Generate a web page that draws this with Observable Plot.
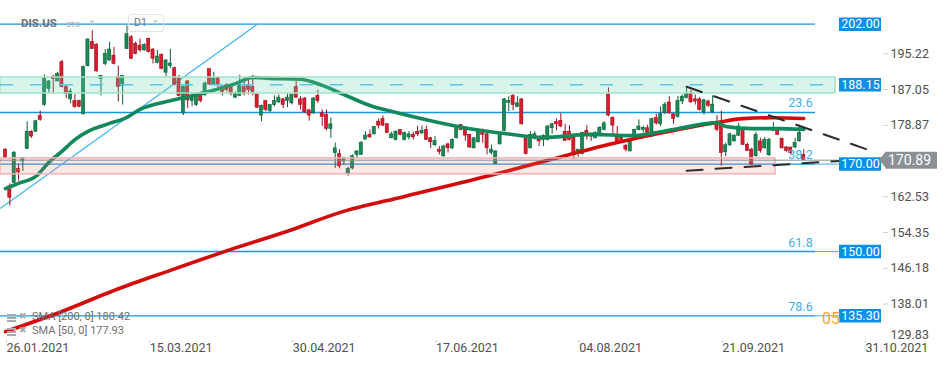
<!DOCTYPE html>
<html><head><meta charset="utf-8">
<script src="https://cdn.jsdelivr.net/npm/d3@7"></script>
<script src="https://cdn.jsdelivr.net/npm/@observablehq/plot@0.6"></script>
<style>
body{margin:0;background:#fff;font-family:Roboto,"Noto Sans",sans-serif;}
#wrap{position:relative;width:950px;height:365px;overflow:hidden}
#wrap svg{position:absolute;left:0;top:0;overflow:visible}
.ov{position:absolute;white-space:nowrap;line-height:1}
</style></head><body>
<div id="wrap"></div>
<script>
// ---- data ----
const opens = [173.3,164.9,165.7,168.9,170.6,173.5,177.4,177.4,181.0,183.5,
187.2,189.9,188.9,193.3,187.6,184.8,184.4,184.4,181.4,192.4,
197.9,197.3,189.5,192.9,193.7,194.8,189.9,187.8,196.3,199.0,
197.5,197.1,196.0,198.6,196.2,193.1,195.0,190.9,192.4,191.9,
189.7,181.6,188.9,184.4,183.5,186.1,185.7,191.7,188.2,189.7,
187.6,188.0,188.0,185.2,185.6,187.6,187.9,187.6,185.9,181.1,
184.4,182.1,183.5,184.1,184.8,184.4,183.9,187.6,184.8,185.0,
182.3,181.6,185.6,181.6,181.2,178.0,172.5,172.3,170.6,167.7,
169.0,172.1,172.1,175.6,176.7,176.8,179.7,180.3,179.1,175.9,
175.5,177.8,175.5,176.1,176.7,177.4,177.0,177.8,175.9,174.3,
173.3,171.8,174.5,173.6,175.9,178.9,178.0,176.7,173.6,175.0,
177.6,176.8,172.6,170.0,174.5,177.6,184.0,185.6,183.1,184.8,
175.8,173.6,175.9,175.9,175.5,175.5,178.2,179.6,179.9,177.4,
177.4,176.1,172.5,172.3,177.6,176.8,175.9,176.8,177.8,185.9,
180.6,176.7,176.1,174.2,172.9,176.5,177.8,177.8,178.2,176.3,
180.5,179.1,181.6,184.1,181.4,180.8,184.3,185.1,186.1,184.8,
184.8,181.8,184.3,181.8,179.1,178.9,172.7,174.3,175.2,176.5,
177.6,174.4,173.3,171.8,175.2,173.6,172.0,177.6,177.8,175.8,
173.8,173.8,173.8,175.2,172.1];
const highs = [173.5,165.5,172.9,169.9,171.5,179.7,177.6,180.0,182.1,190.4,
189.1,190.3,191.0,193.7,188.0,187.2,185.9,184.6,192.4,198.6,
200.5,197.5,190.3,196.2,197.9,196.7,192.4,190.3,201.6,199.4,
197.9,198.6,197.5,198.8,196.4,196.0,195.2,193.9,196.2,192.2,
190.3,187.8,189.1,186.1,186.0,186.5,188.8,191.8,191.0,189.9,
188.0,188.4,188.0,186.5,190.3,189.1,189.5,190.3,186.1,183.5,
184.6,183.6,185.6,185.8,185.0,186.1,186.1,188.9,185.4,185.2,
182.4,185.2,186.9,182.4,182.4,180.5,174.8,173.3,171.6,169.3,
172.1,173.0,175.2,177.4,177.8,178.6,180.3,181.0,179.3,177.3,
177.6,177.8,177.3,177.4,177.3,178.6,178.7,178.7,176.1,176.3,
174.0,174.3,174.8,175.8,178.3,179.0,178.2,176.8,176.1,178.0,
178.0,177.1,174.4,173.0,177.4,185.0,185.4,185.9,185.4,185.0,
175.9,177.4,177.4,176.1,176.7,178.8,179.3,180.3,181.6,179.1,
178.8,176.3,173.3,177.3,178.8,177.1,177.4,178.6,179.7,187.4,
180.8,178.6,176.8,174.5,175.3,178.0,180.1,178.6,178.9,180.5,
181.4,183.1,184.1,185.4,181.6,185.5,185.8,187.6,186.9,185.8,
185.2,184.8,184.6,185.6,181.1,182.1,174.8,177.1,176.7,179.3,
177.8,174.8,173.6,177.3,175.9,176.1,175.9,179.5,178.2,175.9,
174.0,173.8,175.9,178.9,173.3];
const lows = [171.2,160.4,165.5,166.1,168.3,173.3,175.9,177.3,179.8,183.2,
186.1,186.1,188.8,187.4,185.0,183.8,182.7,182.9,181.2,192.2,
196.2,191.0,185.6,192.5,193.5,192.7,184.2,183.5,196.2,193.9,
195.0,195.6,195.8,195.4,192.9,192.9,191.6,189.9,191.8,187.9,
185.4,181.1,182.7,183.1,183.2,184.0,185.6,188.0,188.0,187.3,
185.6,186.5,185.6,185.0,185.4,185.6,185.8,185.6,182.7,179.7,
182.0,181.8,183.1,183.9,182.7,182.9,183.5,185.0,182.4,181.6,
179.8,181.4,183.9,178.6,177.6,175.9,169.0,168.9,169.7,167.2,
168.7,171.5,172.0,175.5,175.9,176.7,178.0,178.6,177.0,175.8,
175.3,176.5,175.3,175.5,175.5,176.3,176.8,175.5,173.6,174.0,
172.1,171.5,172.5,173.3,175.8,177.6,175.2,173.6,173.5,174.8,
174.8,172.1,172.1,169.9,174.4,177.4,182.0,182.2,182.9,178.9,
172.1,173.5,175.5,174.0,174.0,175.3,176.8,177.6,178.3,175.2,
175.3,171.0,171.5,172.1,175.5,175.2,175.8,176.7,177.6,180.8,
176.7,175.0,174.8,172.8,172.8,176.3,177.6,177.1,176.5,176.1,
178.9,178.6,181.4,181.4,179.1,180.5,183.6,184.9,183.9,183.5,
182.1,181.2,182.9,181.6,177.4,169.5,171.7,174.0,175.0,176.3,
174.3,172.9,169.7,171.6,172.5,173.5,171.8,177.4,176.5,173.5,
172.7,172.1,173.5,175.0,171.0];
const closes = [171.4,162.3,172.6,168.1,171.4,177.4,176.3,179.8,180.1,189.5,
188.9,189.5,190.6,187.6,186.1,186.6,183.1,183.1,192.2,198.5,
196.3,191.2,190.1,195.2,196.2,192.9,187.6,190.1,199.7,194.1,
195.2,196.0,197.2,195.6,194.1,194.6,191.8,193.7,193.0,188.2,
185.6,187.6,184.6,185.2,185.7,184.4,188.4,188.2,189.7,188.0,
186.5,186.9,186.1,186.1,187.9,186.1,186.9,186.5,182.9,183.3,
182.4,183.5,184.4,185.2,183.5,185.2,185.8,185.2,183.5,181.8,
181.1,185.0,184.4,180.8,178.0,179.1,173.6,169.5,171.4,168.9,
171.8,172.9,174.8,176.5,176.1,178.5,178.8,178.8,177.1,176.8,
177.4,176.7,177.1,176.8,176.1,176.8,177.6,175.5,175.0,175.3,
172.8,174.0,173.6,175.5,178.2,177.8,176.5,173.8,175.9,177.8,
176.7,173.6,173.3,172.9,176.8,184.8,184.4,183.5,183.9,179.1,
172.3,176.7,176.8,175.2,176.4,178.6,179.1,179.1,178.6,175.3,
175.5,172.5,173.3,177.1,176.7,176.3,177.1,178.3,179.3,181.1,
178.8,175.2,175.5,173.3,175.2,177.8,178.6,178.3,177.1,180.3,
179.3,181.4,183.6,181.6,180.3,184.4,185.4,186.1,184.1,184.3,
182.4,184.6,183.3,183.6,177.8,172.5,174.3,176.8,176.5,178.6,
174.4,173.0,169.9,176.7,173.0,175.5,175.5,177.8,176.7,173.6,
173.0,172.5,174.8,177.1,170.9];

const sma50Idx = [0,3,7,10,13,16,19,24,28,31,38,45,53,57,61,68,73,78,84,90,99,107,115,124,135,144,155,164,166,172,178,184];
const sma50Val = [164.4,165.6,167.2,170.4,172.9,175.6,177.5,179.3,180.7,182.5,184.5,186.1,188.4,189.8,189.6,189.4,188.0,185.9,183.4,181.8,179.7,178.1,177.0,176.1,176.8,176.5,178.1,179.5,178.6,178.1,178.1,177.93];
const sma200Idx = [0,13,25,38,52,66,77,92,111,124,139,156,164,170,177,184];
const sma200Val = [131.7,136.3,141.1,145.7,150.5,155.0,158.9,162.6,167.2,170.6,174.5,178.1,179.5,180.4,180.6,180.42];

const fibNames = ["0.0","23.6","38.2","61.8","78.6"];
const fibPrices = [202.00,181.8,170.00,150.00,135.30];
const levelLabels = [202.00,188.15,170.00,150.00,135.30];
const currentPrice = 170.89;
const sma200Last = 180.42, sma50Last = 177.93;
const greenZone = [186.15,189.8];
const pinkZone = [167.65,171.3];
const resistLevel = 188.15;
const riseTrendIdx = [-1.15,58.1], riseTrendVal = [159.9,202.0];
const downTrendIdx = [157.0,200.5], downTrendVal = [187.7,172.7];
const supportIdx = [157.0,201.7], supportVal = [168.5,171.3];
const dateTickIdx = [0,33,66,99,132,165,198];
const dateLabels = ["26.01.2021","15.03.2021","30.04.2021","17.06.2021","04.08.2021","21.09.2021","31.10.2021"];
const yTicks = [129.83,138.01,146.18,154.35,162.53,178.87,187.05,195.22];

// ---- layout ----
const X0 = -1.1525, PXI = 4.3384;
const px2i = px => px / PXI + X0;
const Y_TOP = 207.41, PXP = 4.373, PLOT_H = 340;
const pp = px => px / PXP; // pixel height -> price units

const candles = opens.map((o,i)=>({i, o, h: highs[i], l: lows[i], c: closes[i]}));
const up = d => d.c >= d.o;
const GF="#178a55", GS="#0c5f38", RF="#dc1c2e", RS="#9c0f1d";
const pts = (a,b) => a.map((x,k)=>({x, y:b[k]}));

const chart = Plot.plot({
  width: 950, height: 365,
  marginTop: 0, marginLeft: 0, marginRight: 68, marginBottom: 25,
  x: {type: "linear", domain: [px2i(0), px2i(882)]},
  y: {type: "linear", domain: [Y_TOP - PLOT_H/PXP, Y_TOP]},
  style: {fontFamily: "Roboto, sans-serif", fontSize: "12px", color: "#505050", background: "transparent", overflow: "visible"},
  marks: [
    Plot.ruleY(fibPrices, {x1: px2i(0), x2: px2i(815), stroke: "#1498e6", strokeWidth: 1.4}),
    Plot.ruleY(levelLabels.slice(2), {x1: px2i(815), x2: px2i(839), stroke: "#1498e6", strokeWidth: 0.8}),
    Plot.line(pts(riseTrendIdx, riseTrendVal), {x: "x", y: "y", stroke: "#3db4f2", strokeWidth: 1.1}),
    Plot.ruleX(candles, {x: "i", y1: "l", y2: "h", stroke: d => up(d) ? GS : RS, strokeWidth: 1}),
    Plot.rect(candles, {x1: d => d.i - 0.36, x2: d => d.i + 0.36,
      y1: d => Math.min(d.o, d.c), y2: d => Math.max(Math.max(d.o, d.c), Math.min(d.o, d.c) + 0.2),
      fill: d => up(d) ? GF : RF, stroke: d => up(d) ? GS : RS, strokeWidth: 0.6}),
    Plot.line(pts(sma200Idx, sma200Val), {x: "x", y: "y", stroke: "#d30b0b", strokeWidth: 3.6, curve: "monotone-x"}),
    Plot.line(pts(sma50Idx, sma50Val), {x: "x", y: "y", stroke: "#12895a", strokeWidth: 3.6, curve: "monotone-x"}),
    Plot.rect([greenZone], {x1: px2i(0), x2: px2i(835), y1: d => d[0], y2: d => d[1],
      fill: "rgb(110,212,170)", fillOpacity: 0.26, stroke: "#a3e2c6", strokeWidth: 1.5}),
    Plot.ruleY([resistLevel], {x1: px2i(0), x2: px2i(830), stroke: "#5fc4ec", strokeWidth: 1.6, strokeDasharray: "13,17"}),
    Plot.rect([pinkZone], {x1: px2i(0), x2: px2i(775), y1: d => d[0], y2: d => d[1],
      fill: "rgb(240,110,110)", fillOpacity: 0.17, stroke: "#f3b2b2", strokeWidth: 1.5}),
    Plot.ruleY([currentPrice], {x1: px2i(0), x2: px2i(882), stroke: "#8e8e8e", strokeWidth: 1}),
    Plot.line(pts(downTrendIdx, downTrendVal), {x: "x", y: "y", stroke: "#2d2d2d", strokeWidth: 2, strokeDasharray: "16,13"}),
    Plot.line(pts(supportIdx, supportVal), {x: "x", y: "y", stroke: "#2d2d2d", strokeWidth: 2, strokeDasharray: "16,13"}),
    Plot.text(fibPrices.slice(1), {x: px2i(800), y: d => d, text: (d,i) => fibNames[i+1], dy: -9, fill: "#3cb0ef", fontSize: 12.5}),
    Plot.ruleY(levelLabels, {x1: px2i(839), x2: px2i(881), stroke: "#0b8fe6", strokeWidth: 13.5}),
    Plot.text(levelLabels, {x: px2i(860), y: d => d, text: d => d.toFixed(2), fill: "white", fontSize: 12.5}),
    Plot.area([{x: px2i(879), a: currentPrice, b: currentPrice}, {x: px2i(886), a: currentPrice - pp(8.5), b: currentPrice + pp(8.5)}],
      {x1: "x", y1: "a", y2: "b", fill: "#8b9094"}),
    Plot.ruleY([currentPrice], {x1: px2i(885.5), x2: px2i(937), stroke: "#8b9094", strokeWidth: 17}),
    Plot.text([currentPrice], {x: px2i(909), y: d => d, text: d => d.toFixed(2), fill: "white", fontSize: 14}),
    Plot.axisY(yTicks.slice(1), {anchor: "right", label: null, tickSize: 5, tickPadding: 3, tickFormat: d => d.toFixed(2), fontSize: 12.5, fill: "#505050", stroke: "#cfcfcf"}),
    Plot.axisY(yTicks.slice(0,1), {anchor: "right", label: null, tickSize: 0, tickPadding: 8, dy: -5, tickFormat: d => d.toFixed(2), fontSize: 12.5, fill: "#505050"}),
    Plot.axisX(dateTickIdx, {anchor: "bottom", label: null, tickSize: 3, tickPadding: 0, textAnchor: "start", dx: 1, tickFormat: (d,i) => dateLabels[i], fontSize: 12.5, fill: "#505050", stroke: "#cfcfcf"})
  ]
});
const wrap = document.getElementById("wrap");
wrap.appendChild(chart);

// header & legend overlays
const ov = (html, css) => { const e = document.createElement("div"); e.className = "ov"; e.style.cssText = css; e.innerHTML = html; wrap.appendChild(e); };
ov("DIS.US", "left:21px;top:18px;font-size:11.5px;font-weight:700;color:#6c7176;");
ov("STC", "left:66px;top:21px;font-size:7.5px;font-weight:700;color:#b9b9b9;");
ov("▼", "left:88px;top:19px;font-size:8px;color:#cfcfcf;");
ov("", "left:128px;top:14px;width:34px;height:16px;border:1px solid #e3e3e3;border-radius:3px;");
ov("D1", "left:134px;top:18px;font-size:10.5px;color:#777;");
ov("▼", "left:152px;top:19px;font-size:7px;color:#cfcfcf;");
const legendRow = (txt, top) => {
  ov("", `left:7px;top:${top+1}px;width:9px;height:2px;background:#a9a9a9;box-shadow:0 3px 0 #a9a9a9,0 6px 0 #a9a9a9;`);
  ov("✖", `left:19px;top:${top-1}px;font-size:9px;color:#a9a9a9;`);
  ov(txt, `left:32px;top:${top-2}px;font-size:11px;color:#707070;`);
};
legendRow(`SMA [200,  0] ${sma200Last.toFixed(2)}`, 313);
legendRow(`SMA [50,  0] ${sma50Last.toFixed(2)}`, 327);
ov("05", "left:822px;top:311px;font-size:16px;color:#f5a623;");
</script>
</body></html>
